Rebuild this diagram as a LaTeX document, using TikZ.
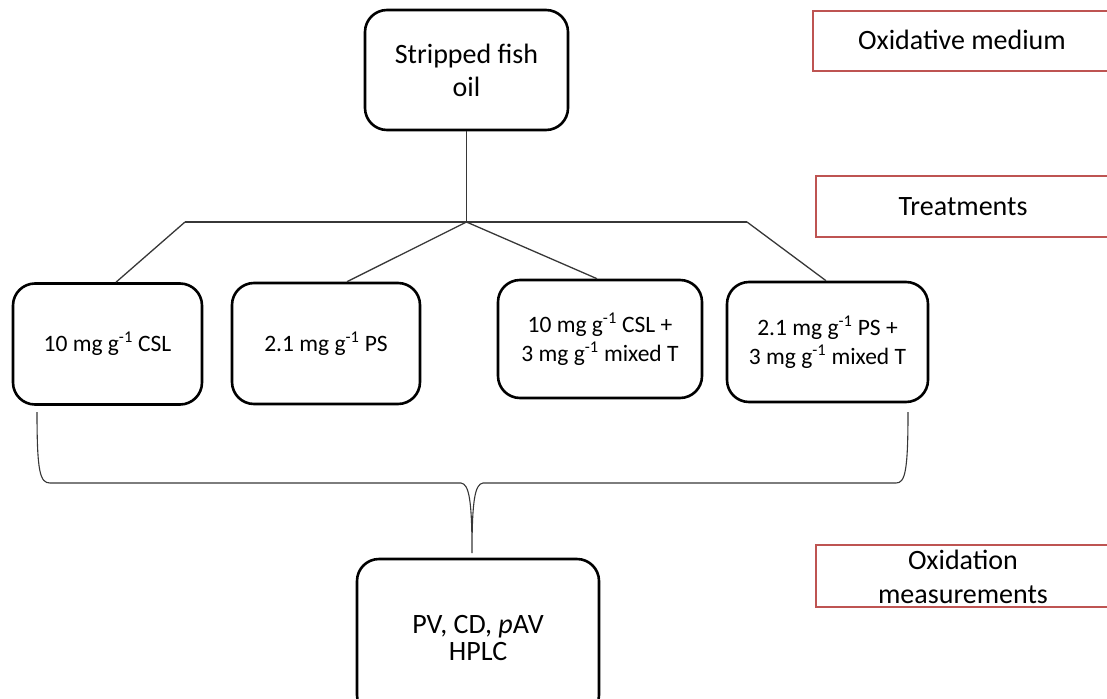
\documentclass[tikz,border=0pt]{standalone}
\usepackage{fontspec}
\setmainfont{Carlito}
\definecolor{redbox}{RGB}{190,84,82}
\definecolor{connc}{RGB}{55,55,55}
\begin{document}
\begin{tikzpicture}[x=1pt,y=-1pt,
  box/.style={draw=black, line width=2.6pt, rounded corners=22pt, inner sep=0pt, align=center},
  bigtxt/.style={font=\fontsize{28}{33}\selectfont},
  smalltxt/.style={font=\fontsize{23.5}{29}\selectfont},
  tagbox/.style={draw=redbox, line width=2pt, inner sep=0pt, align=center, font=\fontsize{28}{34}\selectfont},
  conn/.style={draw=connc, line width=1.3pt}]
\useasboundingbox (0,0) rectangle (1107,698);
\clip (0,0) rectangle (1107,698);

% main boxes
\node[box, bigtxt, minimum width=203pt, minimum height=120pt] (oil) at (466.5,70) {Stripped fish\\oil};
\node[box, smalltxt, minimum width=189pt, minimum height=121pt] (b1) at (107.5,344) {10 mg g\textsuperscript{-1} CSL};
\node[box, smalltxt, minimum width=188pt, minimum height=121pt] (b2) at (326,343.5) {2.1 mg g\textsuperscript{-1} PS};
\node[box, smalltxt, minimum width=204pt, minimum height=118pt] (b3) at (600,339) {10 mg g\textsuperscript{-1} CSL +\\3 mg g\textsuperscript{-1} mixed T};
\node[box, smalltxt, minimum width=201pt, minimum height=120pt] (b4) at (827.5,342) {2.1 mg g\textsuperscript{-1} PS +\\3 mg g\textsuperscript{-1} mixed T};
\node[box, font=\fontsize{28}{27}\selectfont, minimum width=242pt, minimum height=158pt] (ms) at (478,638) {PV, CD, \textit{p}AV\\HPLC};

% side labels
\node[tagbox, text height=24pt, text depth=6pt, minimum width=298pt, minimum height=60pt] (tOM) at (962,41) {Oxidative medium};
\node[tagbox, text height=24pt, text depth=6pt, minimum width=294pt, minimum height=61pt] (tTR) at (963,206.5) {Treatments};
\node[tagbox, text height=58pt, text depth=4pt, minimum width=294pt, minimum height=62pt] (tOX) at (963,576) {Oxidation\\measurements};

% tree connectors
\coordinate (J) at (466.5,222);
\coordinate (HL) at (185,222);
\coordinate (HR) at (747,222);
\draw[conn] (oil.south) -- (J);
\draw[conn] (HL) -- (HR);
\draw[conn] (HL) -- (116,0 |- b1.north);
\draw[conn] (J) -- (347,0 |- b2.north);
\draw[conn] (J) -- (597,0 |- b3.north);
\draw[conn] (HR) -- (826,0 |- b4.north);

% brace
\coordinate (BL) at (37,412);
\coordinate (BR) at (908,412);
\coordinate (BT) at (472,553);
\draw[conn, line width=1.1pt] (BL) .. controls (37,472) and (40,483) .. (50,483) -- (461,483)
  .. controls (469,484) and (472,500) .. (BT)
  .. controls (472,500) and (475,484) .. (483,483) -- (896,483)
  .. controls (905,483) and (908,472) .. (BR);
\end{tikzpicture}
\end{document}
